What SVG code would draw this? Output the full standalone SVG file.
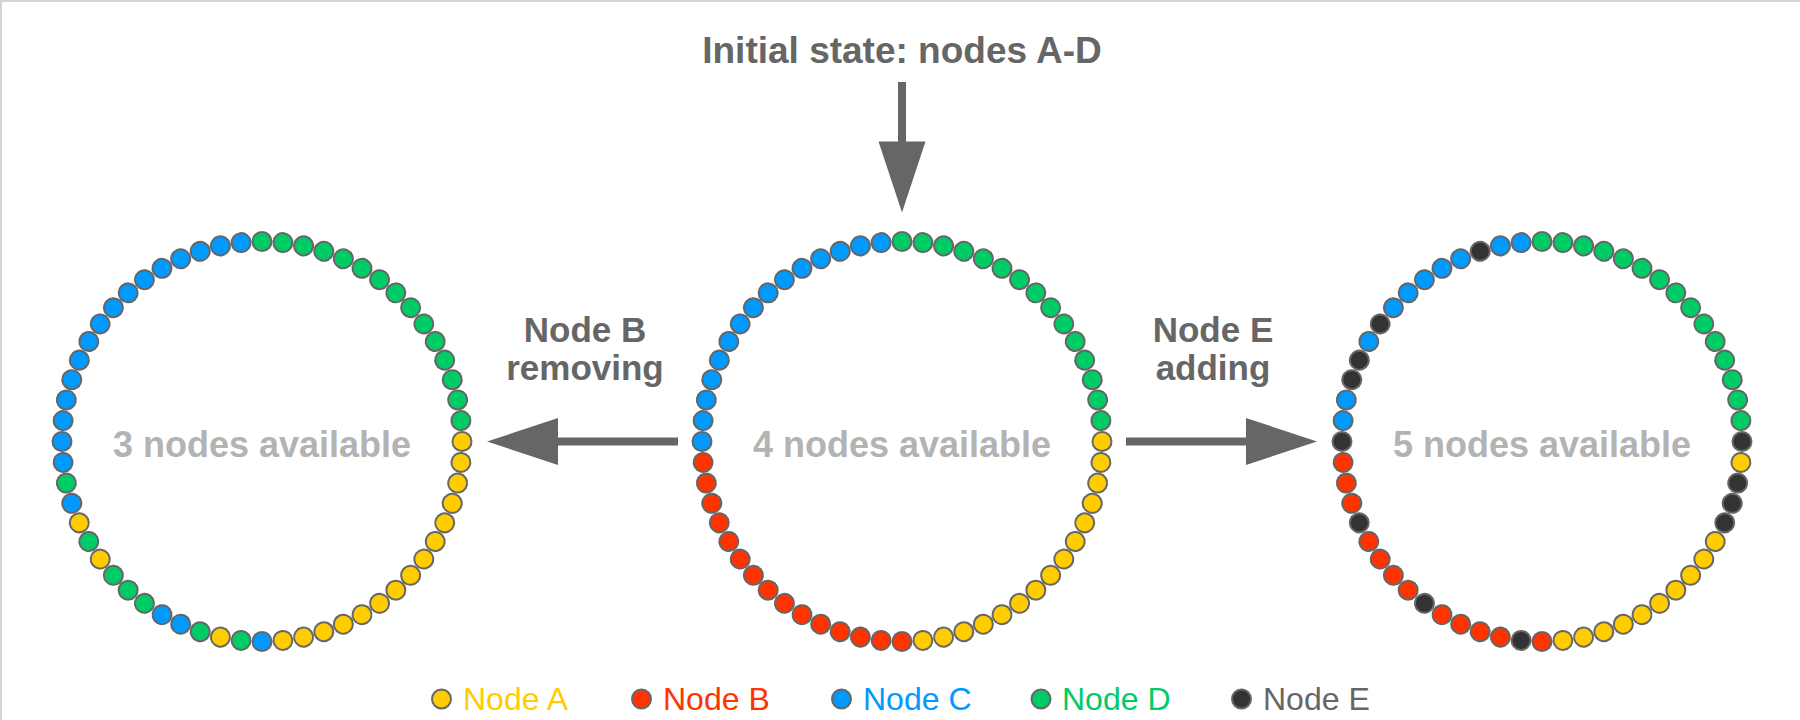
<svg xmlns="http://www.w3.org/2000/svg" width="1800" height="720" viewBox="0 0 1800 720">
<style>
.dot{stroke:#666;stroke-width:2}
.A{fill:#FFCC00}.B{fill:#FF3300}.C{fill:#0099FF}.D{fill:#00CC66}.E{fill:#333333}
.ring text{font-family:"Liberation Sans",Arial,sans-serif;font-weight:bold;font-size:36px;fill:#b3b3b3;text-anchor:middle}
.lbl{font-family:"Liberation Sans",Arial,sans-serif;font-weight:bold;font-size:35px;fill:#666;text-anchor:middle}
.leg{font-family:"Liberation Sans",Arial,sans-serif;font-size:32px}
.conn line{stroke:#666;stroke-width:8}
.conn polygon{fill:#666}
</style>
<rect width="1800" height="720" fill="#fff"/>
<path d="M0 1H1800M1 0V720" stroke="#d3d3d3" stroke-width="2"/>

<text class="lbl" x="902" y="63" style="font-size:37px">Initial state: nodes A-D</text>

<g id="ring-left" class="ring">
<g transform="translate(262,441.5)">
<circle class="dot D" r="9.5" cy="-200" transform="rotate(0)"/>
<circle class="dot D" r="9.5" cy="-200" transform="rotate(6)"/>
<circle class="dot D" r="9.5" cy="-200" transform="rotate(12)"/>
<circle class="dot D" r="9.5" cy="-200" transform="rotate(18)"/>
<circle class="dot D" r="9.5" cy="-200" transform="rotate(24)"/>
<circle class="dot D" r="9.5" cy="-200" transform="rotate(30)"/>
<circle class="dot D" r="9.5" cy="-200" transform="rotate(36)"/>
<circle class="dot D" r="9.5" cy="-200" transform="rotate(42)"/>
<circle class="dot D" r="9.5" cy="-200" transform="rotate(48)"/>
<circle class="dot D" r="9.5" cy="-200" transform="rotate(54)"/>
<circle class="dot D" r="9.5" cy="-200" transform="rotate(60)"/>
<circle class="dot D" r="9.5" cy="-200" transform="rotate(66)"/>
<circle class="dot D" r="9.5" cy="-200" transform="rotate(72)"/>
<circle class="dot D" r="9.5" cy="-200" transform="rotate(78)"/>
<circle class="dot D" r="9.5" cy="-200" transform="rotate(84)"/>
<circle class="dot A" r="9.5" cy="-200" transform="rotate(90)"/>
<circle class="dot A" r="9.5" cy="-200" transform="rotate(96)"/>
<circle class="dot A" r="9.5" cy="-200" transform="rotate(102)"/>
<circle class="dot A" r="9.5" cy="-200" transform="rotate(108)"/>
<circle class="dot A" r="9.5" cy="-200" transform="rotate(114)"/>
<circle class="dot A" r="9.5" cy="-200" transform="rotate(120)"/>
<circle class="dot A" r="9.5" cy="-200" transform="rotate(126)"/>
<circle class="dot A" r="9.5" cy="-200" transform="rotate(132)"/>
<circle class="dot A" r="9.5" cy="-200" transform="rotate(138)"/>
<circle class="dot A" r="9.5" cy="-200" transform="rotate(144)"/>
<circle class="dot A" r="9.5" cy="-200" transform="rotate(150)"/>
<circle class="dot A" r="9.5" cy="-200" transform="rotate(156)"/>
<circle class="dot A" r="9.5" cy="-200" transform="rotate(162)"/>
<circle class="dot A" r="9.5" cy="-200" transform="rotate(168)"/>
<circle class="dot A" r="9.5" cy="-200" transform="rotate(174)"/>
<circle class="dot C" r="9.5" cy="-200" transform="rotate(180)"/>
<circle class="dot D" r="9.5" cy="-200" transform="rotate(186)"/>
<circle class="dot A" r="9.5" cy="-200" transform="rotate(192)"/>
<circle class="dot D" r="9.5" cy="-200" transform="rotate(198)"/>
<circle class="dot C" r="9.5" cy="-200" transform="rotate(204)"/>
<circle class="dot C" r="9.5" cy="-200" transform="rotate(210)"/>
<circle class="dot D" r="9.5" cy="-200" transform="rotate(216)"/>
<circle class="dot D" r="9.5" cy="-200" transform="rotate(222)"/>
<circle class="dot D" r="9.5" cy="-200" transform="rotate(228)"/>
<circle class="dot A" r="9.5" cy="-200" transform="rotate(234)"/>
<circle class="dot D" r="9.5" cy="-200" transform="rotate(240)"/>
<circle class="dot A" r="9.5" cy="-200" transform="rotate(246)"/>
<circle class="dot C" r="9.5" cy="-200" transform="rotate(252)"/>
<circle class="dot D" r="9.5" cy="-200" transform="rotate(258)"/>
<circle class="dot C" r="9.5" cy="-200" transform="rotate(264)"/>
<circle class="dot C" r="9.5" cy="-200" transform="rotate(270)"/>
<circle class="dot C" r="9.5" cy="-200" transform="rotate(276)"/>
<circle class="dot C" r="9.5" cy="-200" transform="rotate(282)"/>
<circle class="dot C" r="9.5" cy="-200" transform="rotate(288)"/>
<circle class="dot C" r="9.5" cy="-200" transform="rotate(294)"/>
<circle class="dot C" r="9.5" cy="-200" transform="rotate(300)"/>
<circle class="dot C" r="9.5" cy="-200" transform="rotate(306)"/>
<circle class="dot C" r="9.5" cy="-200" transform="rotate(312)"/>
<circle class="dot C" r="9.5" cy="-200" transform="rotate(318)"/>
<circle class="dot C" r="9.5" cy="-200" transform="rotate(324)"/>
<circle class="dot C" r="9.5" cy="-200" transform="rotate(330)"/>
<circle class="dot C" r="9.5" cy="-200" transform="rotate(336)"/>
<circle class="dot C" r="9.5" cy="-200" transform="rotate(342)"/>
<circle class="dot C" r="9.5" cy="-200" transform="rotate(348)"/>
<circle class="dot C" r="9.5" cy="-200" transform="rotate(354)"/>
<text x="0" y="15.5">3 nodes available</text>
</g>
</g>

<g id="ring-center" class="ring">
<g transform="translate(902,441.5)">
<circle class="dot D" r="9.5" cy="-200" transform="rotate(0)"/>
<circle class="dot D" r="9.5" cy="-200" transform="rotate(6)"/>
<circle class="dot D" r="9.5" cy="-200" transform="rotate(12)"/>
<circle class="dot D" r="9.5" cy="-200" transform="rotate(18)"/>
<circle class="dot D" r="9.5" cy="-200" transform="rotate(24)"/>
<circle class="dot D" r="9.5" cy="-200" transform="rotate(30)"/>
<circle class="dot D" r="9.5" cy="-200" transform="rotate(36)"/>
<circle class="dot D" r="9.5" cy="-200" transform="rotate(42)"/>
<circle class="dot D" r="9.5" cy="-200" transform="rotate(48)"/>
<circle class="dot D" r="9.5" cy="-200" transform="rotate(54)"/>
<circle class="dot D" r="9.5" cy="-200" transform="rotate(60)"/>
<circle class="dot D" r="9.5" cy="-200" transform="rotate(66)"/>
<circle class="dot D" r="9.5" cy="-200" transform="rotate(72)"/>
<circle class="dot D" r="9.5" cy="-200" transform="rotate(78)"/>
<circle class="dot D" r="9.5" cy="-200" transform="rotate(84)"/>
<circle class="dot A" r="9.5" cy="-200" transform="rotate(90)"/>
<circle class="dot A" r="9.5" cy="-200" transform="rotate(96)"/>
<circle class="dot A" r="9.5" cy="-200" transform="rotate(102)"/>
<circle class="dot A" r="9.5" cy="-200" transform="rotate(108)"/>
<circle class="dot A" r="9.5" cy="-200" transform="rotate(114)"/>
<circle class="dot A" r="9.5" cy="-200" transform="rotate(120)"/>
<circle class="dot A" r="9.5" cy="-200" transform="rotate(126)"/>
<circle class="dot A" r="9.5" cy="-200" transform="rotate(132)"/>
<circle class="dot A" r="9.5" cy="-200" transform="rotate(138)"/>
<circle class="dot A" r="9.5" cy="-200" transform="rotate(144)"/>
<circle class="dot A" r="9.5" cy="-200" transform="rotate(150)"/>
<circle class="dot A" r="9.5" cy="-200" transform="rotate(156)"/>
<circle class="dot A" r="9.5" cy="-200" transform="rotate(162)"/>
<circle class="dot A" r="9.5" cy="-200" transform="rotate(168)"/>
<circle class="dot A" r="9.5" cy="-200" transform="rotate(174)"/>
<circle class="dot B" r="9.5" cy="-200" transform="rotate(180)"/>
<circle class="dot B" r="9.5" cy="-200" transform="rotate(186)"/>
<circle class="dot B" r="9.5" cy="-200" transform="rotate(192)"/>
<circle class="dot B" r="9.5" cy="-200" transform="rotate(198)"/>
<circle class="dot B" r="9.5" cy="-200" transform="rotate(204)"/>
<circle class="dot B" r="9.5" cy="-200" transform="rotate(210)"/>
<circle class="dot B" r="9.5" cy="-200" transform="rotate(216)"/>
<circle class="dot B" r="9.5" cy="-200" transform="rotate(222)"/>
<circle class="dot B" r="9.5" cy="-200" transform="rotate(228)"/>
<circle class="dot B" r="9.5" cy="-200" transform="rotate(234)"/>
<circle class="dot B" r="9.5" cy="-200" transform="rotate(240)"/>
<circle class="dot B" r="9.5" cy="-200" transform="rotate(246)"/>
<circle class="dot B" r="9.5" cy="-200" transform="rotate(252)"/>
<circle class="dot B" r="9.5" cy="-200" transform="rotate(258)"/>
<circle class="dot B" r="9.5" cy="-200" transform="rotate(264)"/>
<circle class="dot C" r="9.5" cy="-200" transform="rotate(270)"/>
<circle class="dot C" r="9.5" cy="-200" transform="rotate(276)"/>
<circle class="dot C" r="9.5" cy="-200" transform="rotate(282)"/>
<circle class="dot C" r="9.5" cy="-200" transform="rotate(288)"/>
<circle class="dot C" r="9.5" cy="-200" transform="rotate(294)"/>
<circle class="dot C" r="9.5" cy="-200" transform="rotate(300)"/>
<circle class="dot C" r="9.5" cy="-200" transform="rotate(306)"/>
<circle class="dot C" r="9.5" cy="-200" transform="rotate(312)"/>
<circle class="dot C" r="9.5" cy="-200" transform="rotate(318)"/>
<circle class="dot C" r="9.5" cy="-200" transform="rotate(324)"/>
<circle class="dot C" r="9.5" cy="-200" transform="rotate(330)"/>
<circle class="dot C" r="9.5" cy="-200" transform="rotate(336)"/>
<circle class="dot C" r="9.5" cy="-200" transform="rotate(342)"/>
<circle class="dot C" r="9.5" cy="-200" transform="rotate(348)"/>
<circle class="dot C" r="9.5" cy="-200" transform="rotate(354)"/>
<text x="0" y="15.5">4 nodes available</text>
</g>
</g>

<g id="ring-right" class="ring">
<g transform="translate(1542,441.5)">
<circle class="dot D" r="9.5" cy="-200" transform="rotate(0)"/>
<circle class="dot D" r="9.5" cy="-200" transform="rotate(6)"/>
<circle class="dot D" r="9.5" cy="-200" transform="rotate(12)"/>
<circle class="dot D" r="9.5" cy="-200" transform="rotate(18)"/>
<circle class="dot D" r="9.5" cy="-200" transform="rotate(24)"/>
<circle class="dot D" r="9.5" cy="-200" transform="rotate(30)"/>
<circle class="dot D" r="9.5" cy="-200" transform="rotate(36)"/>
<circle class="dot D" r="9.5" cy="-200" transform="rotate(42)"/>
<circle class="dot D" r="9.5" cy="-200" transform="rotate(48)"/>
<circle class="dot D" r="9.5" cy="-200" transform="rotate(54)"/>
<circle class="dot D" r="9.5" cy="-200" transform="rotate(60)"/>
<circle class="dot D" r="9.5" cy="-200" transform="rotate(66)"/>
<circle class="dot D" r="9.5" cy="-200" transform="rotate(72)"/>
<circle class="dot D" r="9.5" cy="-200" transform="rotate(78)"/>
<circle class="dot D" r="9.5" cy="-200" transform="rotate(84)"/>
<circle class="dot E" r="9.5" cy="-200" transform="rotate(90)"/>
<circle class="dot A" r="9.5" cy="-200" transform="rotate(96)"/>
<circle class="dot E" r="9.5" cy="-200" transform="rotate(102)"/>
<circle class="dot E" r="9.5" cy="-200" transform="rotate(108)"/>
<circle class="dot E" r="9.5" cy="-200" transform="rotate(114)"/>
<circle class="dot A" r="9.5" cy="-200" transform="rotate(120)"/>
<circle class="dot A" r="9.5" cy="-200" transform="rotate(126)"/>
<circle class="dot A" r="9.5" cy="-200" transform="rotate(132)"/>
<circle class="dot A" r="9.5" cy="-200" transform="rotate(138)"/>
<circle class="dot A" r="9.5" cy="-200" transform="rotate(144)"/>
<circle class="dot A" r="9.5" cy="-200" transform="rotate(150)"/>
<circle class="dot A" r="9.5" cy="-200" transform="rotate(156)"/>
<circle class="dot A" r="9.5" cy="-200" transform="rotate(162)"/>
<circle class="dot A" r="9.5" cy="-200" transform="rotate(168)"/>
<circle class="dot A" r="9.5" cy="-200" transform="rotate(174)"/>
<circle class="dot B" r="9.5" cy="-200" transform="rotate(180)"/>
<circle class="dot E" r="9.5" cy="-200" transform="rotate(186)"/>
<circle class="dot B" r="9.5" cy="-200" transform="rotate(192)"/>
<circle class="dot B" r="9.5" cy="-200" transform="rotate(198)"/>
<circle class="dot B" r="9.5" cy="-200" transform="rotate(204)"/>
<circle class="dot B" r="9.5" cy="-200" transform="rotate(210)"/>
<circle class="dot E" r="9.5" cy="-200" transform="rotate(216)"/>
<circle class="dot B" r="9.5" cy="-200" transform="rotate(222)"/>
<circle class="dot B" r="9.5" cy="-200" transform="rotate(228)"/>
<circle class="dot B" r="9.5" cy="-200" transform="rotate(234)"/>
<circle class="dot B" r="9.5" cy="-200" transform="rotate(240)"/>
<circle class="dot E" r="9.5" cy="-200" transform="rotate(246)"/>
<circle class="dot B" r="9.5" cy="-200" transform="rotate(252)"/>
<circle class="dot B" r="9.5" cy="-200" transform="rotate(258)"/>
<circle class="dot B" r="9.5" cy="-200" transform="rotate(264)"/>
<circle class="dot E" r="9.5" cy="-200" transform="rotate(270)"/>
<circle class="dot C" r="9.5" cy="-200" transform="rotate(276)"/>
<circle class="dot C" r="9.5" cy="-200" transform="rotate(282)"/>
<circle class="dot E" r="9.5" cy="-200" transform="rotate(288)"/>
<circle class="dot E" r="9.5" cy="-200" transform="rotate(294)"/>
<circle class="dot C" r="9.5" cy="-200" transform="rotate(300)"/>
<circle class="dot E" r="9.5" cy="-200" transform="rotate(306)"/>
<circle class="dot C" r="9.5" cy="-200" transform="rotate(312)"/>
<circle class="dot C" r="9.5" cy="-200" transform="rotate(318)"/>
<circle class="dot C" r="9.5" cy="-200" transform="rotate(324)"/>
<circle class="dot C" r="9.5" cy="-200" transform="rotate(330)"/>
<circle class="dot C" r="9.5" cy="-200" transform="rotate(336)"/>
<circle class="dot E" r="9.5" cy="-200" transform="rotate(342)"/>
<circle class="dot C" r="9.5" cy="-200" transform="rotate(348)"/>
<circle class="dot C" r="9.5" cy="-200" transform="rotate(354)"/>
<text x="0" y="15.5">5 nodes available</text>
</g>
</g>

<g id="connectors" class="conn">
<line x1="902" y1="82" x2="902" y2="143"/>
<polygon points="878.5,141.5 925.5,141.5 902,212.5"/>
<line x1="678" y1="441.5" x2="556" y2="441.5"/>
<polygon points="558,418 558,465 487,441.5"/>
<line x1="1126" y1="441.5" x2="1248" y2="441.5"/>
<polygon points="1246,418 1246,465 1317,441.5"/>
<text class="lbl" x="585" y="342">Node B</text>
<text class="lbl" x="585" y="380">removing</text>
<text class="lbl" x="1213" y="342">Node E</text>
<text class="lbl" x="1213" y="380">adding</text>
</g>

<g id="legend">
<circle class="dot A" cx="441.5" cy="699" r="9.5"/>
<text class="leg" x="463" y="710" fill="#FFCC00">Node A</text>
<circle class="dot B" cx="641.5" cy="699" r="9.5"/>
<text class="leg" x="663" y="710" fill="#FF3300">Node B</text>
<circle class="dot C" cx="841.5" cy="699" r="9.5"/>
<text class="leg" x="863" y="710" fill="#0099FF">Node C</text>
<circle class="dot D" cx="1041" cy="699" r="9.5"/>
<text class="leg" x="1062" y="710" fill="#00CC66">Node D</text>
<circle class="dot E" cx="1241.5" cy="699" r="9.5"/>
<text class="leg" x="1263" y="710" fill="#666">Node E</text>
</g>
</svg>
